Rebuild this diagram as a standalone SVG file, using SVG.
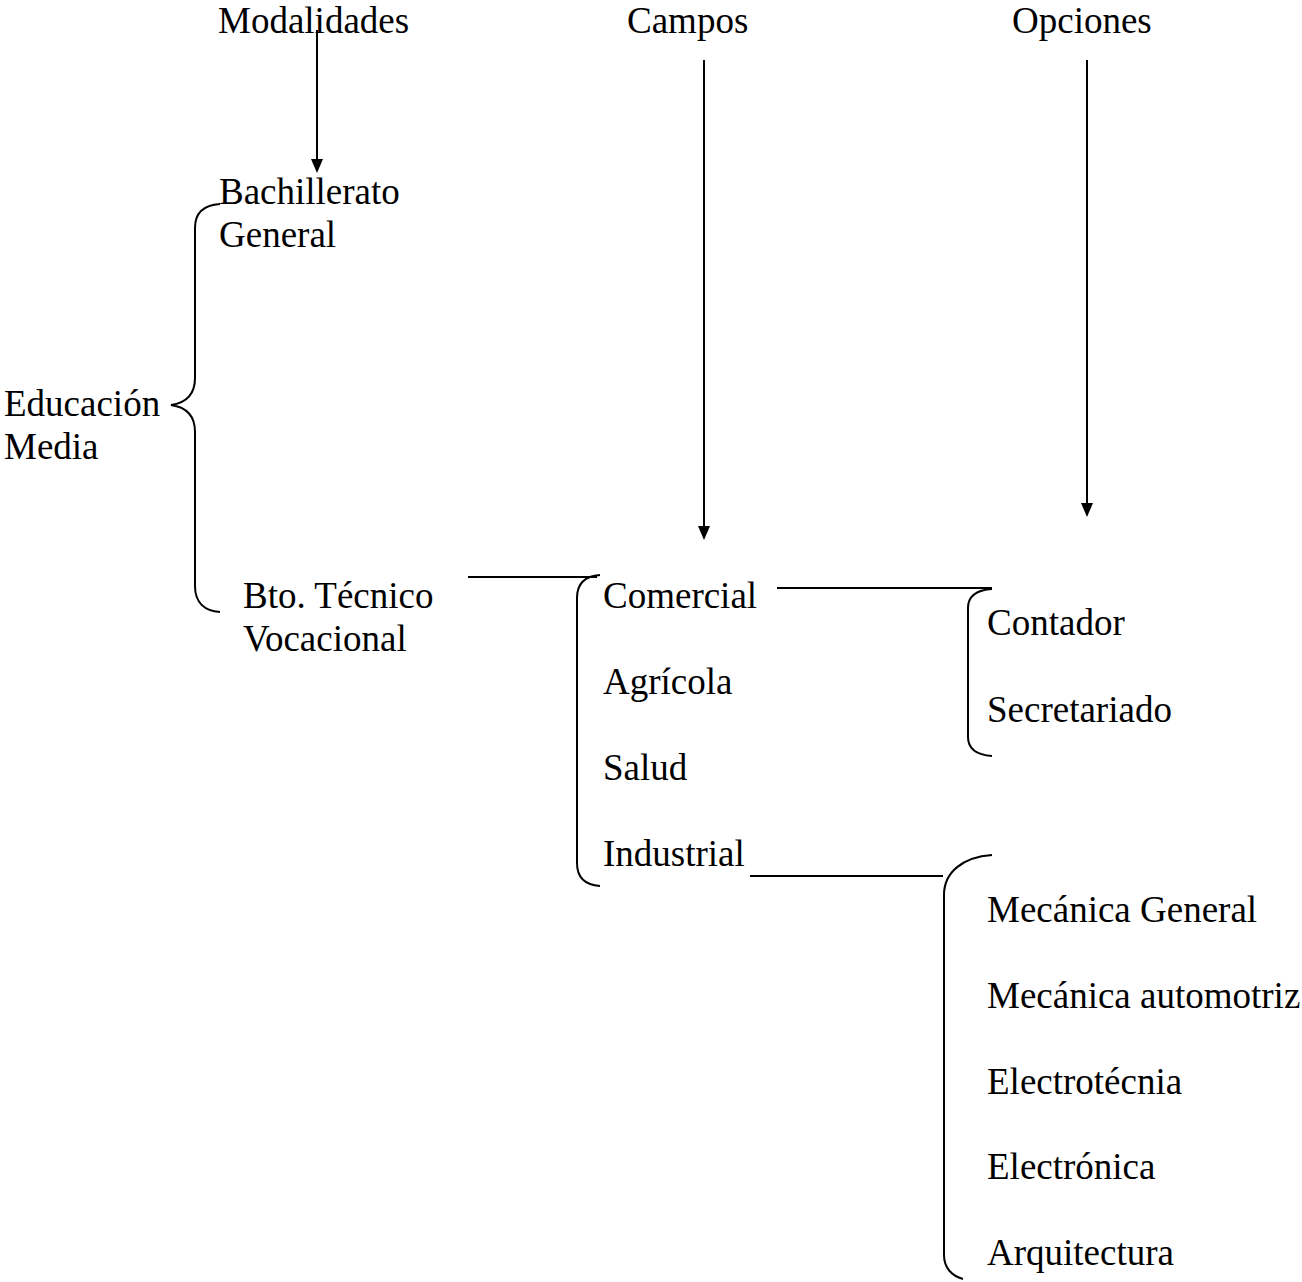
<svg xmlns="http://www.w3.org/2000/svg" width="1302" height="1282" viewBox="0 0 1302 1282">
<defs>
<marker id="ah" markerWidth="12" markerHeight="14" refX="6" refY="13" orient="auto-start-reverse" markerUnits="userSpaceOnUse" viewBox="0 0 12 14">
<path d="M0,0 L12,0 L6,14 Z" fill="#000" transform="rotate(0)"/>
</marker>
<style>
text{font-family:"Liberation Serif","Times New Roman",serif;font-size:37px;fill:#000}
.ln{stroke:#000;stroke-width:2;fill:none}
</style>
</defs>
<rect width="1302" height="1282" fill="#fff"/>
<g id="connectors">
<line class="ln" x1="317" y1="30" x2="317" y2="160"/>
<path d="M311,159 L323,159 L317,173 Z" fill="#000"/>
<line class="ln" x1="704" y1="60" x2="704" y2="527"/>
<path d="M698,526 L710,526 L704,540 Z" fill="#000"/>
<line class="ln" x1="1087" y1="60" x2="1087" y2="504"/>
<path d="M1081,503 L1093,503 L1087,517 Z" fill="#000"/>
<path class="ln" d="M220,204 C204,205 195,212 195,228 L195,378 C195,395 185,403 171,405 C185,407 195,415 195,432 L195,586 C195,603 205,611 220,612"/>
<line class="ln" x1="468" y1="577" x2="597" y2="577"/>
<path class="ln" d="M600,575 C585,576 577,584 577,598 L577,863 C577,877 585,885 600,886"/>
<line class="ln" x1="777" y1="588" x2="992" y2="588"/>
<path class="ln" d="M992,589 C977,590 968,596 968,608 L968,737 C968,749 977,755 992,756"/>
<line class="ln" x1="750" y1="876" x2="943" y2="876"/>
<path class="ln" d="M992,855 C963,857 944,872 944,895 L944,1255 C944,1268 952,1276 963,1279"/>
</g>
<g id="n-modalidades"><text x="218" y="33">Modalidades</text></g>
<g id="n-campos"><text x="627" y="33">Campos</text></g>
<g id="n-opciones"><text x="1012" y="33">Opciones</text></g>
<g id="n-bachillerato"><text x="219" y="204">Bachillerato</text><text x="219" y="247">General</text></g>
<g id="n-educacion"><text x="4" y="416">Educación</text><text x="4" y="459">Media</text></g>
<g id="n-bto"><text x="243" y="608">Bto. Técnico</text><text x="243" y="651">Vocacional</text></g>
<g id="n-comercial"><text x="603" y="608">Comercial</text></g>
<g id="n-agricola"><text x="603" y="694">Agrícola</text></g>
<g id="n-salud"><text x="603" y="780">Salud</text></g>
<g id="n-industrial"><text x="603" y="866">Industrial</text></g>
<g id="n-contador"><text x="987" y="635">Contador</text></g>
<g id="n-secretariado"><text x="987" y="722">Secretariado</text></g>
<g id="n-mecgen"><text x="987" y="922">Mecánica General</text></g>
<g id="n-mecauto"><text x="987" y="1008">Mecánica automotriz</text></g>
<g id="n-electrotecnia"><text x="987" y="1094">Electrotécnia</text></g>
<g id="n-electronica"><text x="987" y="1179">Electrónica</text></g>
<g id="n-arquitectura"><text x="987" y="1265">Arquitectura</text></g>
</svg>
